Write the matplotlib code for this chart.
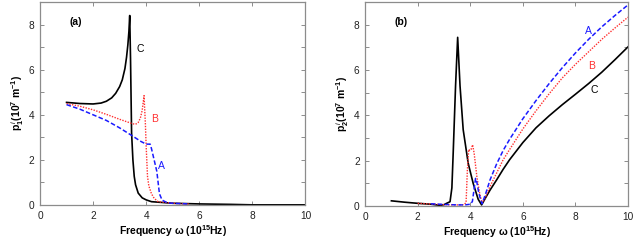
import numpy as np
import matplotlib.pyplot as plt

plt.rcParams['font.family'] = ['Liberation Sans', 'DejaVu Sans']
plt.rcParams['mathtext.fontset'] = 'custom'
plt.rcParams['mathtext.rm'] = 'Liberation Sans'
plt.rcParams['mathtext.bf'] = 'Liberation Sans:bold'
plt.rcParams['mathtext.it'] = 'Liberation Sans:italic'

# panel (a): p1 curves
a_A_x = [1.0, 1.5, 2.0, 2.5, 3.0, 3.5, 3.8, 4.0, 4.15, 4.2, 4.3, 4.4, 4.45, 4.5, 4.6, 4.8, 5.0, 5.6]
a_A_y = [4.45, 4.25, 4.0, 3.75, 3.42, 3.05, 2.82, 2.7, 2.7, 2.5, 2.0, 1.5, 1.0, 0.5, 0.22, 0.1, 0.08, 0.05]
a_B_x = [1.0, 1.5, 2.0, 2.5, 3.0, 3.3, 3.5, 3.6, 3.7, 3.78, 3.85, 3.92, 3.97, 4.0, 4.05, 4.1, 4.2, 4.3, 4.45, 5.0, 5.6]
a_B_y = [4.5, 4.38, 4.22, 4.02, 3.8, 3.68, 3.6, 3.58, 3.66, 3.85, 4.2, 4.85, 3.6, 2.6, 1.27, 0.85, 0.5, 0.3, 0.15, 0.08, 0.05]
a_C_x = [1.0, 1.5, 2.0, 2.3, 2.5, 2.7, 2.85, 3.0, 3.1, 3.2, 3.26, 3.31, 3.35, 3.38, 3.41, 3.45, 3.5, 3.55, 3.6, 3.7, 3.85, 4.0, 4.2, 5.0, 6.0, 7.2, 8.0, 10.0]
a_C_y = [4.55, 4.5, 4.48, 4.52, 4.6, 4.75, 4.95, 5.25, 5.55, 6.05, 6.55, 7.1, 7.7, 8.4, 6.5, 3.2, 2.0, 1.27, 0.9, 0.53, 0.32, 0.23, 0.15, 0.08, 0.05, 0.03, 0.01, 0.01]

# panel (b): p2 curves
b_A_x = [2.5, 3.0, 3.5, 3.8, 4.0, 4.08, 4.14, 4.2, 4.25, 4.32, 4.4, 4.45, 4.6, 4.75, 5.0, 5.25, 5.5, 6.0, 6.5, 7.0, 7.5, 8.0, 8.5, 9.0, 9.5, 10.0]
b_A_y = [0.1, 0.07, 0.05, 0.05, 0.08, 0.2, 0.7, 1.22, 1.05, 0.6, 0.25, 0.1, 0.6, 1.15, 1.85, 2.45, 2.95, 3.85, 4.65, 5.4, 6.1, 6.75, 7.35, 7.9, 8.4, 8.87]
b_B_x = [2.0, 2.5, 3.0, 3.5, 3.75, 3.84, 3.89, 3.94, 3.98, 4.03, 4.09, 4.15, 4.25, 4.35, 4.45, 4.6, 4.75, 5.0, 5.25, 5.5, 6.0, 6.5, 7.0, 7.5, 8.0, 8.5, 9.0, 9.5, 10.0]
b_B_y = [0.12, 0.09, 0.06, 0.05, 0.06, 0.15, 1.6, 2.5, 2.45, 2.5, 2.7, 2.3, 1.3, 0.6, 0.12, 0.45, 0.86, 1.45, 2.04, 2.5, 3.4, 4.2, 4.95, 5.65, 6.25, 6.8, 7.35, 7.85, 8.33]
b_C_x = [1.0, 1.5, 2.0, 2.5, 2.85, 3.0, 3.1, 3.23, 3.3, 3.35, 3.44, 3.52, 3.61, 3.73, 3.92, 4.11, 4.3, 4.43, 4.6, 4.75, 5.0, 5.25, 5.5, 6.0, 6.5, 7.0, 7.5, 8.0, 8.5, 9.0, 9.5, 10.0]
b_C_y = [0.23, 0.17, 0.12, 0.08, 0.03, 0.06, 0.12, 0.19, 0.8, 2.34, 5.3, 7.44, 5.3, 3.37, 1.89, 1.0, 0.3, 0.05, 0.4, 0.7, 1.15, 1.62, 2.05, 2.8, 3.45, 3.98, 4.47, 4.93, 5.4, 5.9, 6.45, 7.02]

x_ticks = [0, 2, 4, 6, 8, 10]
y_ticks = [0, 2, 4, 6, 8]

blue = '#1a1aff'
red = '#ff3030'
frame = '#8c8c8c'

fig = plt.figure(figsize=(6.35, 2.45), dpi=100)
ax1 = fig.add_axes([0.063, 0.163, 0.418, 0.829])
ax2 = fig.add_axes([0.575, 0.159, 0.414, 0.833])


def style(ax, ylabel, tag):
    ax.set_xlim(0, 10)
    ax.set_ylim(0, 9)
    ax.set_xticks(x_ticks)
    ax.set_yticks(y_ticks)
    ax.set_yticks(range(0, 10), minor=True)
    ax.tick_params(axis='both', which='both', direction='in', top=True, right=True,
                   length=3, width=0.7, color=frame, labelsize=7.3, labelcolor='#222222', pad=4)
    for s in ax.spines.values():
        s.set_color(frame)
        s.set_linewidth(0.9)
    ax.set_xlabel(r'Frequency $\mathbf{\omega}$ (10$^{\mathbf{15}}$Hz)', fontsize=7.5,
                  fontweight='bold', labelpad=2)
    ax.set_ylabel(ylabel, fontsize=7.5, fontweight='bold', labelpad=2)
    ax.text(0.110, 0.885, tag, transform=ax.transAxes, fontsize=7.5, fontweight='bold')


ax1.plot(a_C_x, a_C_y, color='black', lw=1.2)
ax1.plot(a_B_x, a_B_y, color=red, lw=1.0, ls=(0, (1, 1)))
ax1.plot(a_A_x, a_A_y, color=blue, lw=1.1, ls=(0, (3, 1.5)))
ax1.text(4.45, 1.6, 'A', color=blue, fontsize=7.5)
ax1.text(4.2, 3.7, 'B', color=red, fontsize=7.5)
ax1.text(3.65, 6.8, 'C', color='black', fontsize=7.5)
style(ax1, r'p$_{\mathbf{1}}^{\,i}$(10$^{\mathbf{7}}$ m$^{\mathbf{-1}}$)', '(a)')

ax2.plot(b_C_x, b_C_y, color='black', lw=1.2)
ax2.plot(b_B_x, b_B_y, color=red, lw=1.0, ls=(0, (1, 1)))
ax2.plot(b_A_x, b_A_y, color=blue, lw=1.1, ls=(0, (3, 1.5)))
ax2.text(8.35, 7.6, 'A', color=blue, fontsize=7.5)
ax2.text(8.47, 6.05, 'B', color=red, fontsize=7.5)
ax2.text(8.57, 5.0, 'C', color='black', fontsize=7.5)
style(ax2, r'p$_{\mathbf{2}}^{\,i}$(10$^{\mathbf{7}}$ m$^{\mathbf{-1}}$)', '(b)')

fig.savefig('out.png', dpi=100)
